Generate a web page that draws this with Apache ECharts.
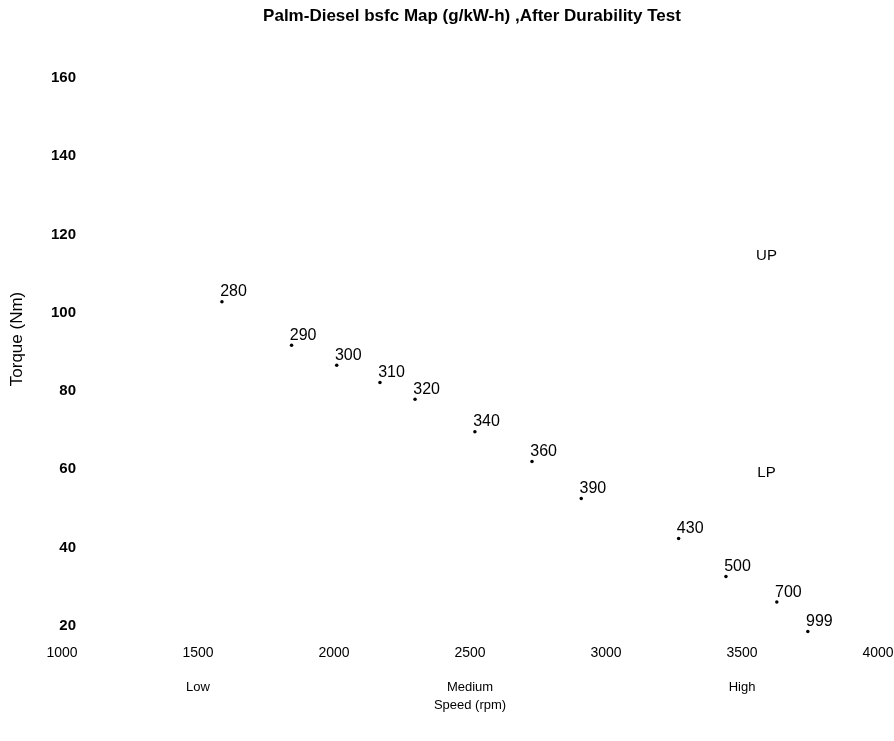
<!DOCTYPE html>
<html>
<head>
<meta charset="utf-8">
<script src="https://cdn.jsdelivr.net/npm/echarts@6/dist/echarts.min.js"></script>
<style>
  html, body { margin: 0; padding: 0; background: #ffffff; }
  #chart { width: 894px; height: 741px; }
</style>
</head>
<body>
<div id="chart"></div>
<script>
// Operating points: engine speed (rpm), torque (Nm) and bsfc (g/kW-h)
const speeds  = [1588, 1844, 2010, 2169, 2298, 2518, 2728, 2909, 3267, 3441, 3628, 3742];
const torques = [102.8, 91.7, 86.6, 82.2, 77.9, 69.6, 62.0, 52.5, 42.3, 32.6, 26.1, 18.5];
const bsfc    = [280, 290, 300, 310, 320, 340, 360, 390, 430, 500, 700, 999];

// Speed band names shown under the speed ticks
const bandSpeeds = [1500, 2500, 3500];
const bandNames  = ['Low', 'Medium', 'High'];

// Region markers (upper / lower part of the map)
const regionNames   = ['UP', 'LP'];
const regionSpeeds  = [3590, 3590];
const regionTorques = [114.5, 59.0];

const FONT = '"Liberation Sans", Arial, sans-serif';

const points = speeds.map((s, i) => ({ value: [s, torques[i]], name: String(bsfc[i]) }));
const regions = regionNames.map((n, i) => ({ value: [regionSpeeds[i], regionTorques[i]], name: n }));

const speedAxisBase = {
  type: 'value', min: 1000, max: 4000, interval: 500,
  position: 'bottom', offset: -64,
  axisLine: { show: false, onZero: false },
  axisTick: { show: false },
  splitLine: { show: false }
};

const chart = echarts.init(document.getElementById('chart'), null, { renderer: 'canvas' });
chart.setOption({
  backgroundColor: '#ffffff',
  animation: false,
  textStyle: { fontFamily: FONT },
  title: {
    text: 'Palm-Diesel bsfc Map (g/kW-h) ,After Durability Test',
    left: 467, top: 3, textAlign: 'center',
    textStyle: { fontFamily: FONT, fontSize: 17, fontWeight: 'bold', color: '#000' }
  },
  grid: { left: 62, right: 16, top: 78, bottom: 37, outerBoundsMode: 'none' },
  xAxis: [
    Object.assign({}, speedAxisBase, {
      axisLabel: {
        margin: 6, fontSize: 14, color: '#000', fontFamily: FONT,
        formatter: v => String(v)
      }
    }),
    Object.assign({}, speedAxisBase, {
      name: 'Speed (rpm)', nameLocation: 'middle', nameGap: 55,
      nameTextStyle: { fontSize: 13, color: '#000', fontFamily: FONT },
      axisLabel: {
        margin: 41, fontSize: 13, color: '#000', fontFamily: FONT,
        formatter: v => { const k = bandSpeeds.indexOf(v); return k >= 0 ? bandNames[k] : ''; }
      }
    })
  ],
  yAxis: {
    type: 'value', min: 0, max: 160, interval: 20,
    axisLine: { show: false }, axisTick: { show: false }, splitLine: { show: false },
    axisLabel: {
      align: 'right', margin: -14, fontSize: 15, fontWeight: 'bold', color: '#000', fontFamily: FONT,
      formatter: v => (v === 0 ? '' : String(v))
    }
  },
  graphic: [{
    type: 'text', x: 17, y: 339, rotation: Math.PI / 2,
    style: {
      text: 'Torque (Nm)', align: 'center', verticalAlign: 'middle',
      font: '17px ' + FONT, fill: '#000'
    }
  }],
  series: [
    {
      type: 'scatter', xAxisIndex: 0, data: points,
      symbol: 'circle', symbolSize: 3.5,
      itemStyle: { color: '#000', opacity: 1 },
      label: {
        show: true, formatter: '{b}', position: [0, 0], offset: [0, 0],
        align: 'left', verticalAlign: 'bottom',
        fontSize: 16, color: '#000', fontFamily: FONT
      }
    },
    {
      type: 'scatter', xAxisIndex: 0, data: regions,
      symbolSize: 0, itemStyle: { opacity: 1 },
      label: {
        show: true, formatter: '{b}', position: 'inside',
        fontSize: 15, color: '#000', fontFamily: FONT
      }
    }
  ]
});
</script>
</body>
</html>
